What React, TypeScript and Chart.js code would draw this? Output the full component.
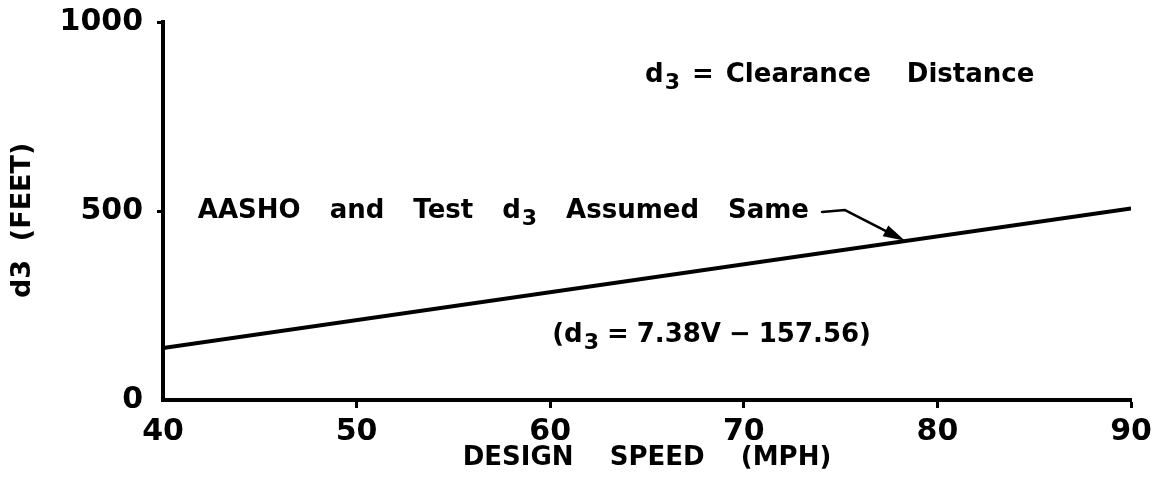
import React, { useEffect, useRef } from "react";
import { Chart, registerables } from "chart.js";

Chart.register(...registerables);

// ---- data ----
const speeds = [40, 90];
const clearanceFeet = [137.64, 506.64];
const xTickValues = [40, 50, 60, 70, 80, 90];
const yTickValues = [0, 500, 1000];
const xTitle = "DESIGN    SPEED    (MPH)";
const yTitle = "d3  (FEET)  ";
const noteTexts = [
  "d₃ = Clearance   Distance",
  "AASHO and Test d₃ Assumed Same",
  "(d₃ = 7.38V − 157.56)",
];
const noteSpeeds = [64.9, 41.8, 60.1];
const noteFeet = [841, 481.5, 153.4];
const arrowSpeeds = [74.04, 75.23, 78.33];
const arrowFeet = [497.4, 502.6, 421];

// ---- styles ----
const FONT = "DejaVu Sans";
const noteSize = 26;
const noteSpaceWidths = [12, 29, 8];

function drawRich(
  ctx: CanvasRenderingContext2D,
  text: string,
  x0: number,
  y0: number,
  size: number,
  space: number
) {
  let x = x0;
  const normal = `bold ${size}px "${FONT}"`;
  const sub = `bold ${Math.round(size * 0.85)}px "${FONT}"`;
  let run = "";
  const flush = () => {
    if (!run) return;
    ctx.font = normal;
    ctx.fillText(run, x, y0);
    x += ctx.measureText(run).width;
    run = "";
  };
  for (const ch of text) {
    if (ch === " ") {
      flush();
      x += space;
    } else if (ch === "₃") {
      flush();
      ctx.font = sub;
      ctx.fillText("3", x + 1, y0 + 7);
      x += ctx.measureText("3").width + 1;
    } else {
      run += ch;
    }
  }
  flush();
}

const notesPlugin = {
  id: "notes",
  afterDraw(chart: any) {
    const { ctx } = chart;
    const xs = chart.scales.x;
    const ys = chart.scales.y;
    ctx.save();
    ctx.fillStyle = "#000";
    ctx.strokeStyle = "#000";
    ctx.textAlign = "left";
    ctx.textBaseline = "alphabetic";
    noteTexts.forEach((t, i) => {
      drawRich(
        ctx,
        t,
        xs.getPixelForValue(noteSpeeds[i]),
        ys.getPixelForValue(noteFeet[i]),
        noteSize,
        noteSpaceWidths[i]
      );
    });
    // leader arrow
    const pts = arrowSpeeds.map((s, i) => [
      xs.getPixelForValue(s),
      ys.getPixelForValue(arrowFeet[i]),
    ]);
    const [tx, ty] = pts[pts.length - 1];
    const [bx, by] = pts[pts.length - 2];
    const len = Math.hypot(tx - bx, ty - by);
    const ux = (tx - bx) / len;
    const uy = (ty - by) / len;
    const headLen = 22;
    const headHalf = 6;
    ctx.lineWidth = 2.5;
    ctx.lineCap = "round";
    ctx.lineJoin = "round";
    ctx.beginPath();
    ctx.moveTo(pts[0][0], pts[0][1]);
    for (let i = 1; i < pts.length - 1; i++) ctx.lineTo(pts[i][0], pts[i][1]);
    ctx.lineTo(tx - ux * headLen * 0.8, ty - uy * headLen * 0.8);
    ctx.stroke();
    const hx = tx - ux * headLen;
    const hy = ty - uy * headLen;
    ctx.beginPath();
    ctx.moveTo(tx, ty);
    ctx.lineTo(hx - uy * headHalf, hy + ux * headHalf);
    ctx.lineTo(hx + uy * headHalf, hy - ux * headHalf);
    ctx.closePath();
    ctx.fill();
    ctx.restore();
  },
};

export default function App() {
  const canvasRef = useRef<HTMLCanvasElement | null>(null);

  useEffect(() => {
    document.body.style.margin = "0";
    const canvas = canvasRef.current;
    if (!canvas) return;
    const points = speeds.map((s, i) => ({ x: s, y: clearanceFeet[i] }));
    const hideAt = (v: number) => (c: any) =>
      c.tick && c.tick.value === v ? "rgba(0,0,0,0)" : "#000";

    const chart = new Chart(canvas, {
      type: "line",
      data: {
        datasets: [
          {
            data: points,
            borderColor: "#000",
            borderWidth: 4,
            pointRadius: 0,
            fill: false,
            tension: 0,
          },
        ],
      },
      options: {
        responsive: false,
        animation: false,
        events: [],
        layout: { padding: { top: 22, right: 27, left: 0, bottom: 0 } },
        plugins: { legend: { display: false }, tooltip: { enabled: false } },
        scales: {
          x: {
            type: "linear",
            min: 40,
            max: 90,
            afterBuildTicks: (s: any) => {
              s.ticks = xTickValues.map((v) => ({ value: v }));
            },
            afterFit: (s: any) => {
              s.height = 99;
              s.paddingLeft = 0;
              s.paddingRight = 0;
            },
            border: { display: true, color: "#000", width: 4 },
            grid: {
              display: true,
              drawOnChartArea: false,
              drawTicks: true,
              tickLength: 8,
              tickWidth: 3,
              tickColor: hideAt(40),
              color: "#000",
            },
            ticks: {
              color: "#000",
              padding: 6,
              maxRotation: 0,
              callback: (v: any) => String(v),
              font: { family: FONT, size: 30, weight: "bold" },
            },
            title: {
              display: true,
              text: xTitle,
              color: "#000",
              padding: { top: 0, bottom: 25 },
              font: { family: FONT, size: 26, weight: "bold" },
            },
          },
          y: {
            type: "linear",
            min: 0,
            max: 1000,
            afterBuildTicks: (s: any) => {
              s.ticks = yTickValues.map((v) => ({ value: v }));
            },
            afterFit: (s: any) => {
              s.width = 163;
              s.paddingTop = 0;
              s.paddingBottom = 0;
            },
            border: { display: true, color: "#000", width: 4 },
            grid: {
              display: true,
              drawOnChartArea: false,
              drawTicks: true,
              tickLength: 6,
              tickWidth: 3,
              tickColor: hideAt(0),
              color: "#000",
            },
            ticks: {
              color: "#000",
              padding: 14,
              callback: (v: any) => String(v),
              font: { family: FONT, size: 30, weight: "bold" },
            },
            title: {
              display: true,
              text: yTitle,
              color: "#000",
              padding: { top: 7, bottom: 0 },
              font: { family: FONT, size: 27, weight: "bold" },
            },
          },
        },
      },
      plugins: [notesPlugin],
    });
    return () => chart.destroy();
  }, []);

  return (
    <div style={{ width: 1158, height: 499, background: "#fff" }}>
      <canvas ref={canvasRef} width={1158} height={499} />
    </div>
  );
}
